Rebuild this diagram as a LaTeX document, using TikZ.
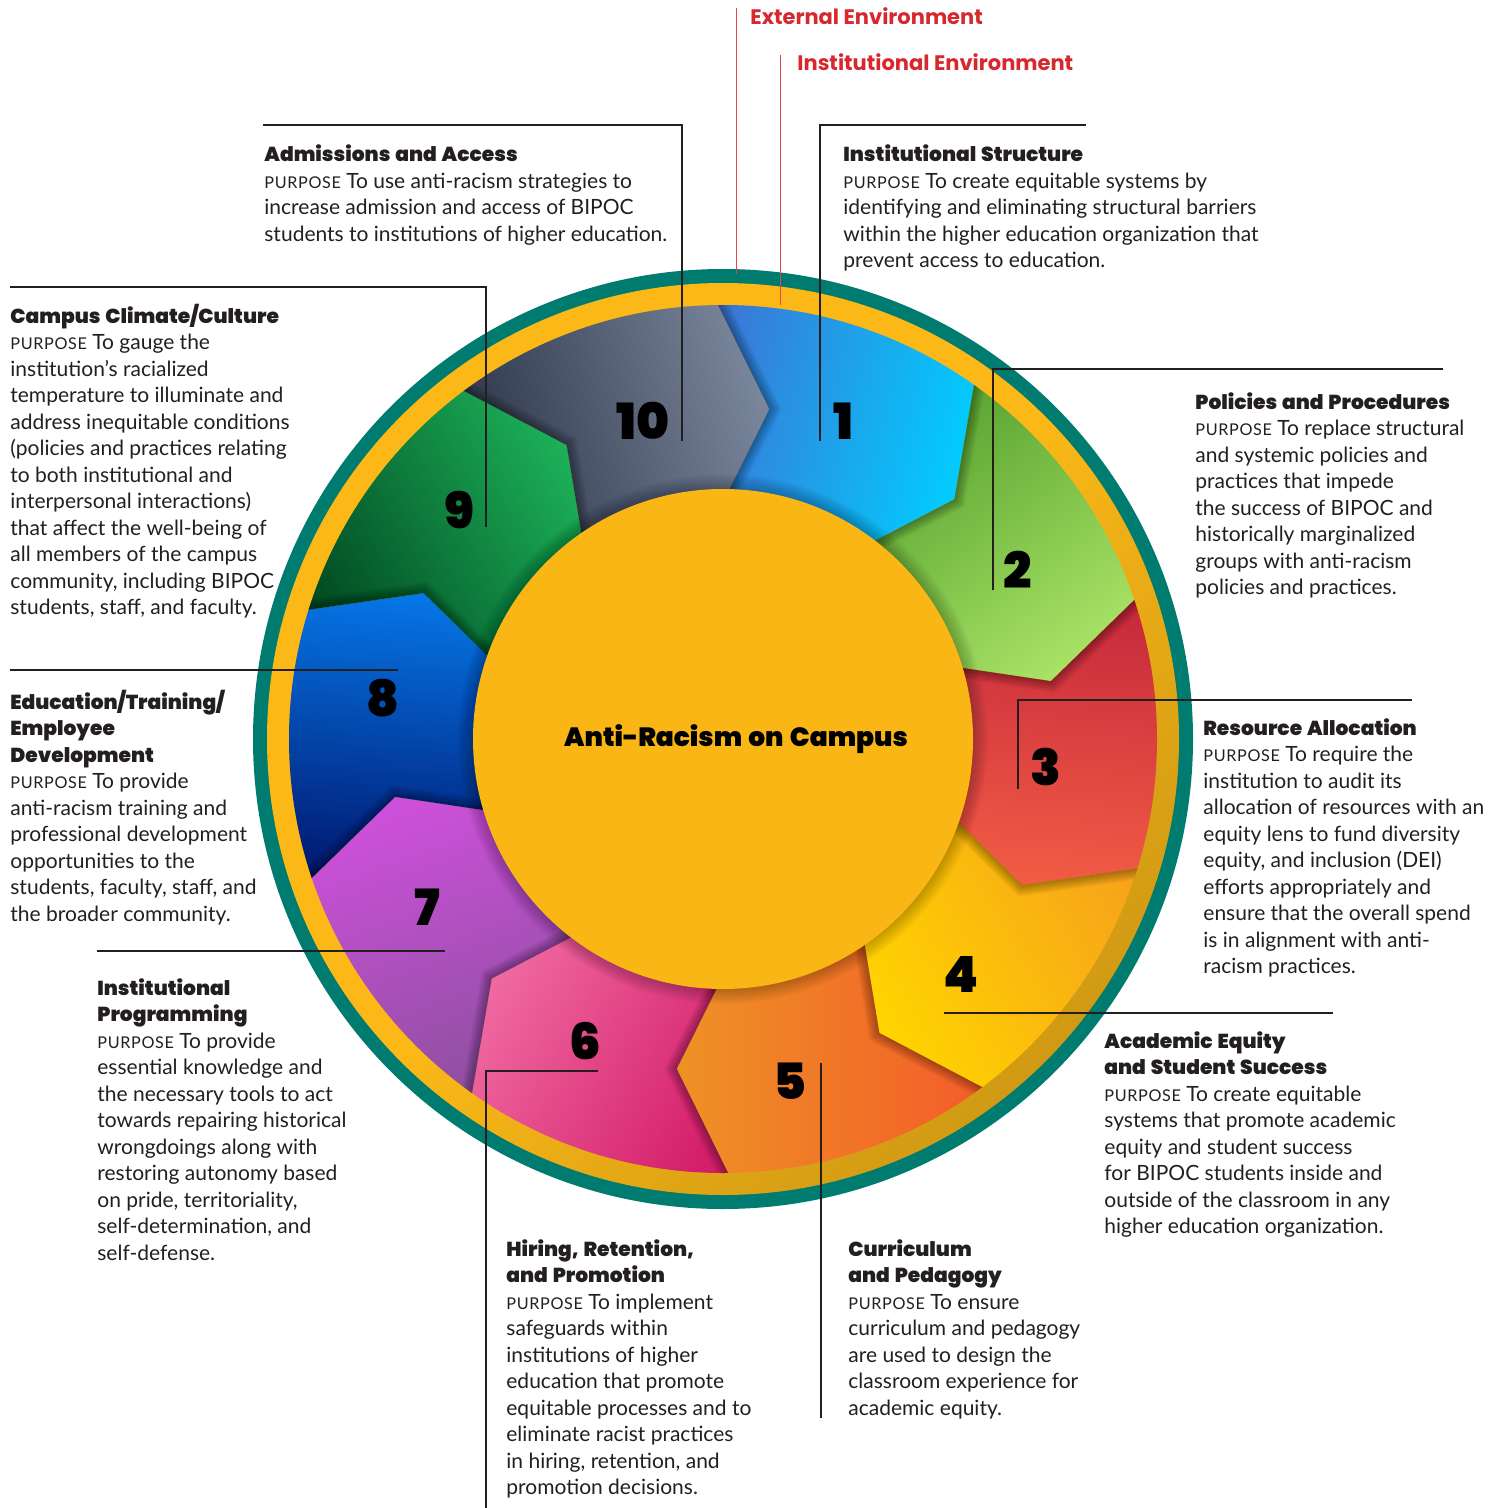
\documentclass[tikz,border=0pt]{standalone}
\usepackage{fontspec}
\setmainfont{Lato}
\IfFontExistsTF{Poppins Black}{\newfontfamily\numff{Poppins Black}\newfontfamily\hdff{Poppins Black}[WordSpace=1.4]\newcommand\numf{\numff}\newcommand\headf{\hdff}}{\newfontfamily\numff{Poppins}[FakeBold=2]\newfontfamily\hdff{Poppins}[FakeBold=2,WordSpace=1.4]\newcommand\numf{\numff\bfseries}\newcommand\headf{\hdff\bfseries}}
\newfontfamily\popf{Poppins}
\definecolor{txt}{HTML}{231F20}
\definecolor{tealc}{HTML}{007B6F}
\definecolor{ringA}{HTML}{FBB817}
\definecolor{ringB}{HTML}{D09A14}
\definecolor{core}{HTML}{FAB615}
\definecolor{redc}{HTML}{D7282F}
\definecolor{redl}{HTML}{E0474C}
\definecolor{pa1}{HTML}{3A78D6}\definecolor{pb1}{HTML}{00CFFF}
\definecolor{pa2}{HTML}{4E9C2A}\definecolor{pb2}{HTML}{A9E265}
\definecolor{pa3}{HTML}{C3263B}\definecolor{pb3}{HTML}{F25C45}
\definecolor{pa4}{HTML}{F6A01C}\definecolor{pb4}{HTML}{FFD400}
\definecolor{pa5}{HTML}{F4582A}\definecolor{pb5}{HTML}{EE9225}
\definecolor{pa6}{HTML}{F06AA2}\definecolor{pb6}{HTML}{D41E6A}
\definecolor{pa7}{HTML}{CD50DA}\definecolor{pb7}{HTML}{87509A}
\definecolor{pa8}{HTML}{0676E6}\definecolor{pb8}{HTML}{00136A}
\definecolor{pa9}{HTML}{1CB058}\definecolor{pb9}{HTML}{00451F}
\definecolor{pa10}{HTML}{283144}\definecolor{pb10}{HTML}{7A869C}
\newcommand\bodyf{\fontsize{10.5pt}{13.25pt}\selectfont}
\newcommand\hd[1]{{\headf\fontsize{10.1pt}{13.25pt}\selectfont #1}}
\newcommand\purp{{\fontsize{8.1pt}{13.25pt}\selectfont\addfontfeature{LetterSpace=4}PURPOSE}\ }
\newcommand\lines[1]{\begin{tabular}[t]{@{}l@{}}#1\end{tabular}}
\newcommand\petalpath[2]{({#1-92.2}:460) -- ({#2-92.2}:460) -- ({#2-82}:333) -- ({#2-93.4}:212) -- ({#1-93.4}:212) -- ({#1-82}:333) -- cycle}
\tikzset{
  blk/.style={anchor=base west, inner sep=0pt, font=\bodyf, text=txt},
  numlab/.style={inner sep=0pt, font=\numf\fontsize{25pt}{25pt}\selectfont, text=black},
  leader/.style={draw=txt, line width=0.6pt},
  redleader/.style={draw=redl, line width=0.5pt},
  redlab/.style={anchor=base west, inner sep=0pt, text=redc, font=\popf\bfseries\fontsize{10.5pt}{12pt}\selectfont}
}
\begin{document}
\begin{tikzpicture}[x=0.5pt,y=-0.5pt]
\useasboundingbox (0,0) rectangle (1501,1508);
\fill[white] (0,0) rectangle (1501,1508);
\begin{scope}[shift={(723,739)}]
  \fill[tealc] (0,0) circle[radius=470];
  \shade[top color=ringA, bottom color=ringB, middle color=ringA, shading angle=45] (0,0) circle[radius=456];
  \begin{scope}
    \clip (0,0) circle[radius=434];
    \foreach \k/\ang in {1/75,2/35,3/-5,4/-60,5/-90,6/60,7/20,8/-5,9/-60,10/105} {
      \pgfmathsetmacro\ta{36*(\k-1)}
      \pgfmathsetmacro\tb{36*\k}
      \shade[top color=pa\k, bottom color=pb\k, shading angle=\ang] \petalpath{\ta}{\tb};
    }
    \foreach \k in {1,...,10} {
      \pgfmathsetmacro\ta{36*(\k-1)}
      \pgfmathsetmacro\tb{36*\k}
      \pgfmathsetmacro\tc{36*(\k+1)}
      \begin{scope}
        \clip \petalpath{\tb}{\tc};
        \foreach \w in {2,4,...,22} {
          \pgfmathsetmacro\lw{\w*0.5}
          \draw[black, opacity=0.03, line width=\lw pt] \petalpath{\ta}{\tb};
        }
      \end{scope}
    }
  \end{scope}
  \foreach \w in {2,4,...,30} {
    \pgfmathsetmacro\lw{\w*0.5}
    \draw[black, opacity=0.015, line width=\lw pt] (0,0) circle[radius=250];
  }
  \fill[core] (0,0) circle[radius=250];
\end{scope}

% title and numbers
\node[anchor=base, inner sep=0pt, font=\numf\fontsize{13.2pt}{15pt}\selectfont, text=black] (title) at (736,746) {Anti-Racism on Campus};
\node[numlab] (n10) at (643,421) {10};
\node[numlab] (n1) at (843,421) {1};
\node[numlab] (n2) at (1018,570) {2};
\node[numlab] (n3) at (1046,767) {3};
\node[numlab] (n4) at (961,974) {4};
\node[numlab] (n5) at (790,1081) {5};
\node[numlab] (n6) at (585,1041) {6};
\node[numlab] (n7) at (427,907) {7};
\node[numlab] (n8) at (383,698) {8};
\node[numlab] (n9) at (459,510) {9};

% leader coordinates
\coordinate (a10) at (263,125); \coordinate (b10) at (682,125); \coordinate (c10) at (682,441);
\coordinate (a1) at (1086,125); \coordinate (b1) at (820,125); \coordinate (c1) at (820,441);
\coordinate (a2) at (1443,369); \coordinate (b2) at (993,369); \coordinate (c2) at (993,590);
\coordinate (a3) at (1412,700); \coordinate (b3) at (1018,700); \coordinate (c3) at (1018,789);
\coordinate (a4) at (944,1013); \coordinate (b4) at (1333,1013);
\coordinate (a5) at (821,1063); \coordinate (b5) at (821,1418);
\coordinate (a6) at (598,1071); \coordinate (b6) at (486,1071); \coordinate (c6) at (486,1508);
\coordinate (a7) at (97,951); \coordinate (b7) at (445,951);
\coordinate (a8) at (10,670); \coordinate (b8) at (398,670);
\coordinate (a9) at (10,287); \coordinate (b9) at (486,287); \coordinate (c9) at (486,527);
\coordinate (re1) at (736,8); \coordinate (re2) at (736,274);
\coordinate (ri1) at (780,55); \coordinate (ri2) at (780,305);

\draw[leader] (a10) -- (b10) -- (c10);
\draw[leader] (a1) -- (b1) -- (c1);
\draw[leader] (a2) -- (b2) -- (c2);
\draw[leader] (a3) -- (b3) -- (c3);
\draw[leader] (a4) -- (b4);
\draw[leader] (a5) -- (b5);
\draw[leader] (a6) -- (b6) -- (c6);
\draw[leader] (a7) -- (b7);
\draw[leader] (a8) -- (b8);
\draw[leader] (a9) -- (b9) -- (c9);
\draw[redleader] (re1) -- (re2);
\draw[redleader] (ri1) -- (ri2);

\node[redlab] (ext) at (750,25) {External Environment};
\node[redlab] (inst) at (797,71) {Institutional Environment};

% text blocks
\node[blk] (t10) at (264,162) {\lines{\hd{Admissions and Access}\\ \purp To use anti-racism strategies to\\ increase admission and access of BIPOC\\ students to institutions of higher education.}};
\node[blk] (t1) at (843,162) {\lines{\hd{Institutional Structure}\\ \purp To create equitable systems by\\ identifying and eliminating structural barriers\\ within the higher education organization that\\ prevent access to education.}};
\node[blk] (t2) at (1195,409) {\lines{\hd{Policies and Procedures}\\ \purp To replace structural\\ and systemic policies and\\ practices that impede\\ the success of BIPOC and\\ historically marginalized\\ groups with anti-racism\\ policies and practices.}};
\node[blk] (t3) at (1203,735) {\lines{\hd{Resource Allocation}\\ \purp To require the\\ institution to audit its\\ allocation of resources with an\\ equity lens to fund diversity\\ equity, and inclusion (DEI)\\ efforts appropriately and\\ ensure that the overall spend\\ is in alignment with anti-\\ racism practices.}};
\node[blk] (t4) at (1104,1048) {\lines{\hd{Academic Equity}\\ \hd{and Student Success}\\ \purp To create equitable\\ systems that promote academic\\ equity and student success\\ for BIPOC students inside and\\ outside of the classroom in any\\ higher education organization.}};
\node[blk] (t5) at (848,1256) {\lines{\hd{Curriculum}\\ \hd{and Pedagogy}\\ \purp To ensure\\ curriculum and pedagogy\\ are used to design the\\ classroom experience for\\ academic equity.}};
\node[blk] (t6) at (506,1256) {\lines{\hd{Hiring, Retention,}\\ \hd{and Promotion}\\ \purp To implement\\ safeguards within\\ institutions of higher\\ education that promote\\ equitable processes and to\\ eliminate racist practices\\ in hiring, retention, and\\ promotion decisions.}};
\node[blk] (t7) at (97,995) {\lines{\hd{Institutional}\\ \hd{Programming}\\ \purp To provide\\ essential knowledge and\\ the necessary tools to act\\ towards repairing historical\\ wrongdoings along with\\ restoring autonomy based\\ on pride, territoriality,\\ self-determination, and\\ self-defense.}};
\node[blk] (t8) at (10,709) {\lines{\hd{Education/Training/}\\ \hd{Employee}\\ \hd{Development}\\ \purp To provide\\ anti-racism training and\\ professional development\\ opportunities to the\\ students, faculty, staff, and\\ the broader community.}};
\node[blk] (t9) at (10,323) {\lines{\hd{Campus Climate/Culture}\\ \purp To gauge the\\ institution’s racialized\\ temperature to illuminate and\\ address inequitable conditions\\ (policies and practices relating\\ to both institutional and\\ interpersonal interactions)\\ that affect the well-being of\\ all members of the campus\\ community, including BIPOC\\ students, staff, and faculty.}};
\end{tikzpicture}
\end{document}
